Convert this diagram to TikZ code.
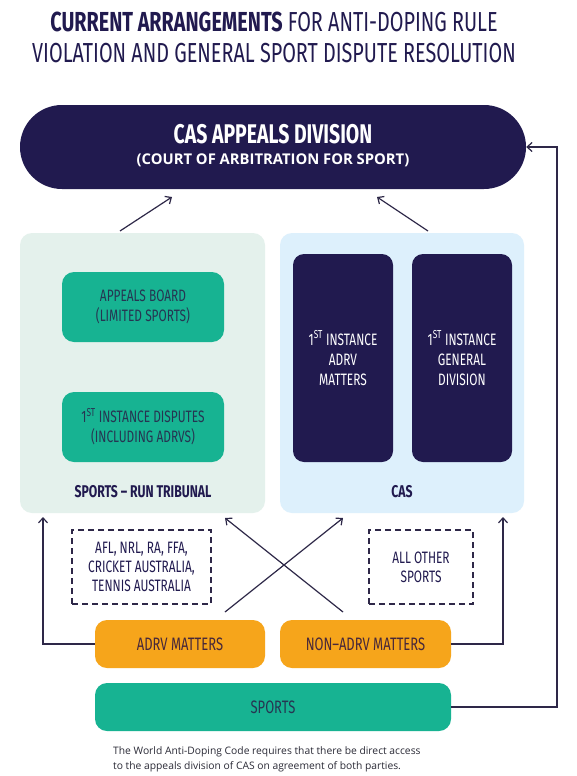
\documentclass[tikz,border=0pt]{standalone}
\usepackage{fontspec}
\setmainfont{Open Sans}
\newfontfamily\cond[FakeStretch=0.72]{Fira Sans}
\usetikzlibrary{arrows.meta}
\definecolor{navy}{HTML}{211A4F}
\definecolor{linec}{HTML}{2E2848}
\definecolor{panelgreen}{HTML}{E4F1EC}
\definecolor{panelblue}{HTML}{DDF0FC}
\definecolor{teal}{HTML}{17B392}
\definecolor{tealtext}{HTML}{263552}
\definecolor{orange}{HTML}{F6A51B}
\definecolor{orangetext}{HTML}{47283A}
\definecolor{foot}{HTML}{2A2A36}
\tikzset{
  panel/.style={rounded corners=12pt, minimum height=280pt, inner sep=0pt},
  tealbox/.style={fill=teal, rounded corners=12pt, minimum width=162pt, minimum height=70pt, text=tealtext, align=center, font=\cond\fontsize{16.5}{20}\selectfont, inner sep=0pt},
  darkbox/.style={fill=navy, rounded corners=11pt, minimum width=100pt, minimum height=208pt, text=white, align=center, font=\cond\fontsize{16.5}{20}\selectfont, inner sep=0pt},
  panellabel/.style={text=navy, font=\cond\bfseries\fontsize{17}{20}\selectfont},
  dashbox/.style={draw=linec, line width=1.2pt, dash pattern=on 6pt off 4pt, minimum height=74pt, align=center, text=navy, font=\cond\fontsize{16.5}{19}\selectfont, inner sep=0pt},
  orangebox/.style={fill=orange, rounded corners=12pt, minimum height=48pt, text=orangetext, font=\cond\fontsize{18}{20}\selectfont, inner sep=0pt},
  conn/.style={draw=linec, line width=1.2pt},
  arr/.style={conn, -{Straight Barb[length=5pt,width=9pt]}},
}
\begin{document}
\begin{tikzpicture}[x=1pt,y=-1pt]
\useasboundingbox[fill=white] (0,0) rectangle (576,776);
% title
\node[text=navy, font=\cond\fontsize{27.5}{31}\selectfont, align=center] (title) at (274,37)
  {{\bfseries CURRENT ARRANGEMENTS} FOR ANTI-DOPING RULE\\VIOLATION AND GENERAL SPORT DISPUTE RESOLUTION};
% CAS appeals division
\node[fill=navy, rounded corners=42pt, minimum width=506pt, minimum height=84pt, inner sep=0pt] (pill) at (273,147) {};
\node[text=white, font=\cond\bfseries\fontsize{27}{28}\selectfont] (pilltitle) at (273,134) {CAS APPEALS DIVISION};
\node[text=white, font=\fontseries{sb}\fontsize{14.8}{16}\selectfont] (pillsub) at (273,160) {(COURT OF ARBITRATION FOR SPORT)};
% panels
\node[panel, fill=panelgreen, minimum width=245pt] (lpanel) at (142.5,373) {};
\node[panel, fill=panelblue, minimum width=244pt] (rpanel) at (402,373) {};
\node[tealbox] (board) at (143,307) {APPEALS BOARD\\(LIMITED SPORTS)};
\node[tealbox] (disputes) at (143,427) {1\textsuperscript{ST} INSTANCE DISPUTES\\(INCLUDING ADRVS)};
\node[panellabel] (tribunal) at (143,492) {SPORTS – RUN TRIBUNAL};
\node[darkbox] (casadrv) at (343,358) {1\textsuperscript{ST} INSTANCE\\ADRV\\MATTERS};
\node[darkbox] (casgen) at (462,358) {1\textsuperscript{ST} INSTANCE\\GENERAL\\DIVISION};
\node[panellabel] (caslabel) at (402,492) {CAS};
% dashed boxes
\node[dashbox, minimum width=139pt] (major) at (141.5,567) {AFL, NRL, RA, FFA,\\CRICKET AUSTRALIA,\\TENNIS AUSTRALIA};
\node[dashbox, minimum width=104pt] (others) at (421,567) {ALL OTHER\\SPORTS};
% bottom boxes
\node[orangebox, minimum width=170pt] (adrv) at (180,644) {ADRV MATTERS};
\node[orangebox, minimum width=171pt] (nonadrv) at (365.5,644) {NON–ADRV MATTERS};
\node[fill=teal, rounded corners=12pt, minimum width=356pt, minimum height=48pt, inner sep=0pt, text=tealtext, font=\cond\fontsize{18}{20}\selectfont] (sports) at (273,707) {SPORTS};
% footnote
\node[anchor=north west, text=foot, font=\fontsize{10.3}{15}\selectfont, align=left, inner sep=0pt] (note) at (113,746)
  {The World Anti-Doping Code requires that there be direct access\\to the appeals division of CAS on agreement of both parties.};
% coordinates
\coordinate (l1) at (120,231);
\coordinate (l2) at (172,197);
\coordinate (r1) at (428,231);
\coordinate (r2) at (377,197);
\coordinate (x1) at (225,612);
\coordinate (x2) at (343,518);
\coordinate (x3) at (343,612);
\coordinate (x4) at (225,518);
\coordinate (lup) at (43,517);
\coordinate (rup) at (503,517);
\coordinate (bigc) at (557,147);
% connectors
\draw[arr] (l1) -- (l2);
\draw[arr] (r1) -- (r2);
\draw[arr] (x1) -- (x2);
\draw[arr] (x3) -- (x4);
\draw[arr] (adrv.west) -| (lup);
\draw[arr] (nonadrv.east) -| (rup);
\draw[arr] (sports.east) -| (bigc) -- (pill.east);
\end{tikzpicture}
\end{document}
